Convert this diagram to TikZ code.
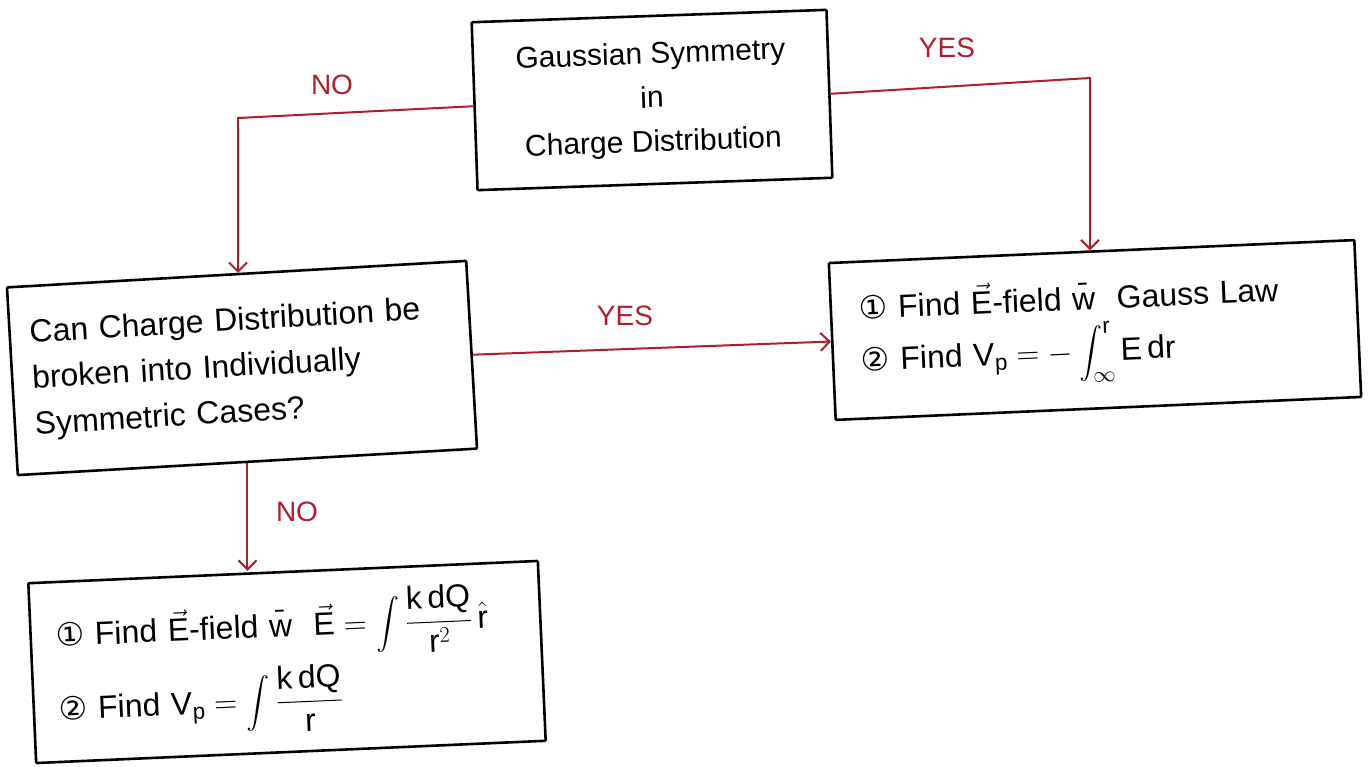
\RequirePackage{fix-cm}
\documentclass[tikz,border=0pt]{standalone}
\usepackage{amsmath}
\usepackage{fontspec}
\setmainfont{Liberation Sans}
\newfontfamily\sym{DejaVu Sans}
\usetikzlibrary{arrows.meta}
\definecolor{pen}{HTML}{B01E2D}
\newcommand{\tx}[1]{\text{#1}}
\begin{document}
\begin{tikzpicture}[x=1pt,y=-1pt,
  box/.style={draw=black, line width=2.6pt, rounded corners=1pt, inner ysep=0pt},
  flow/.style={draw=pen, line width=2pt, -{Straight Barb[length=9pt,width=18pt,line width=2pt]}},
  lbl/.style={text=pen, font=\fontsize{28}{30}\selectfont},
  txt/.style={font=\fontsize{30}{44}\selectfont},
  bigtxt/.style={font=\fontsize{32}{46}\selectfont}]
\useasboundingbox (0,0) rectangle (1371,767);

\node[box, txt, rotate=2, minimum width=355pt, minimum height=168pt, align=center] (top) at (652,100)
  {Gaussian Symmetry\\in\\Charge Distribution};
\node[box, bigtxt, rotate=3.3, minimum height=188pt, text width=420pt, inner xsep=20pt, align=left] (left) at (242,368)
  {Can Charge Distribution be\\broken into Individually\\Symmetric Cases?};
\node[box, bigtxt, rotate=2.5, minimum height=157pt, text width=470pt, inner xsep=28pt, align=left] (right) at (1095,330)
  {{\sym ①} Find $\vec{\tx{E}}$-field \={w}\ \ Gauss Law\\[6pt]{\sym ②} Find $\displaystyle \tx{V}_{\tx{p}} = -\int_{\infty}^{\tx{r}} \tx{E\,dr}$};
\node[box, bigtxt, rotate=2.5, minimum height=180pt, text width=460pt, inner xsep=25pt, align=left] (bottom) at (287,662)
  {{\sym ①} Find $\vec{\tx{E}}$-field \={w}\ \ $\displaystyle\vec{\tx{E}} = \int \frac{\tx{k\,dQ}}{\tx{r}^2}\,\hat{\tx{r}}$\\[6pt]{\sym ②} Find $\displaystyle\tx{V}_{\tx{p}} = \int \frac{\tx{k\,dQ}}{\tx{r}}$};

\coordinate (nA) at (238,118);
\coordinate (yA) at (1090,78);
\draw[flow] (top.west) -- (nA) -- (nA |- left.north);
\draw[flow] (top.east) -- (yA) -- (yA |- right.north);
\draw[flow] (left.east) -- (right.west);
\draw[flow] (left.south) -- (left.south |- bottom.north);

\node[lbl] (no1) at (332,85) {NO};
\node[lbl] (yes1) at (947,48) {YES};
\node[lbl] (yes2) at (625,316) {YES};
\node[lbl] (no2) at (297,512) {NO};
\end{tikzpicture}
\end{document}
